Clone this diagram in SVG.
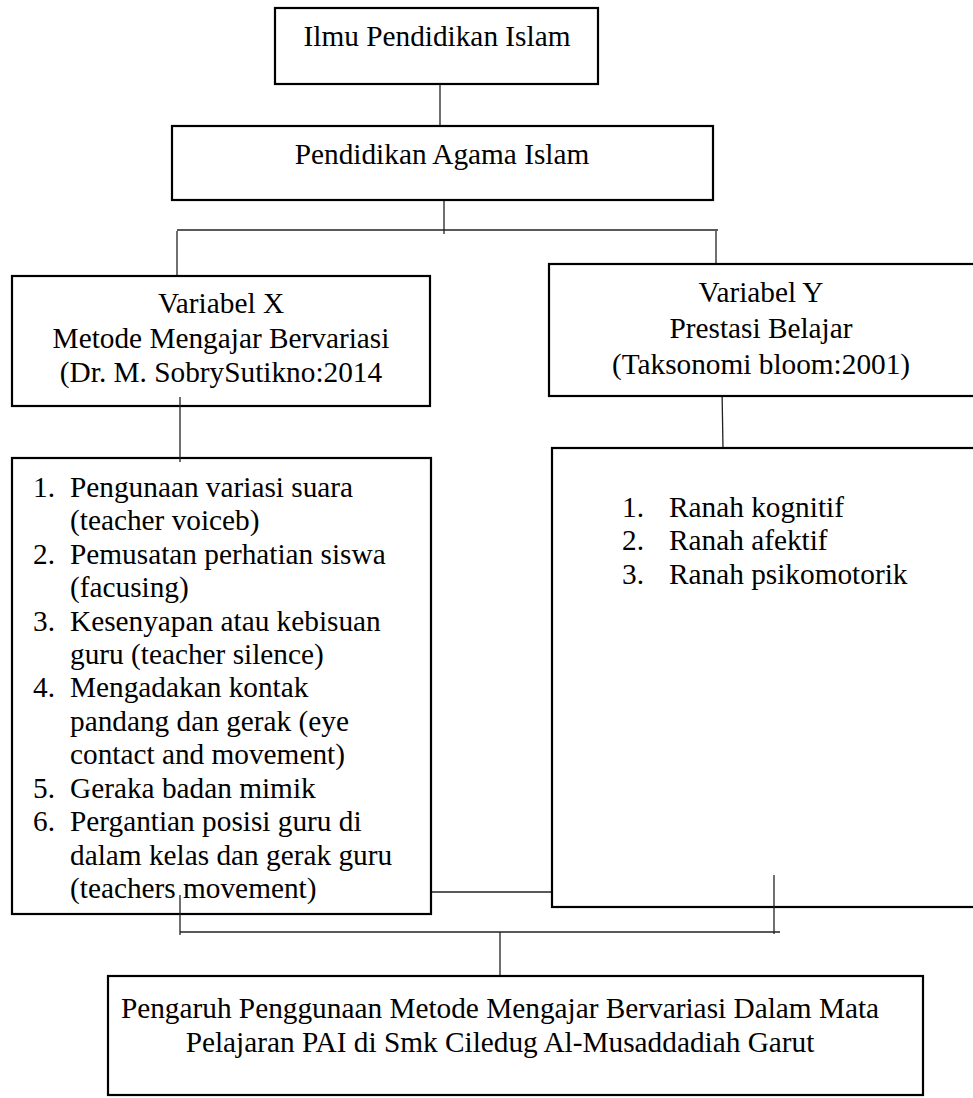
<svg xmlns="http://www.w3.org/2000/svg" width="973" height="1098" viewBox="0 0 973 1098">
<style>
.box{fill:#fff;stroke:#000;stroke-width:2.2}
.t{font-family:"Liberation Serif","Times New Roman",serif;font-size:29.3px;fill:#000}
.c{text-anchor:middle}
.ln{stroke:#222;stroke-width:1.3;fill:none}
</style>
<rect width="973" height="1098" fill="#fff"/>
<g id="connectors">
<line class="ln" x1="440" y1="84" x2="440" y2="126"/>
<line class="ln" x1="444" y1="200" x2="444" y2="234"/>
<line class="ln" x1="177" y1="230" x2="718" y2="230"/>
<line class="ln" x1="177" y1="231" x2="177" y2="280"/>
<line class="ln" x1="716" y1="231" x2="716" y2="264"/>
<line class="ln" x1="722" y1="388" x2="723" y2="449"/>
<line class="ln" x1="431" y1="892" x2="552" y2="892"/>
<line class="ln" x1="180" y1="932" x2="780" y2="932"/>
<line class="ln" x1="500" y1="932" x2="500" y2="976"/>
</g>
<g id="n1">
<rect class="box" x="275" y="8" width="323" height="76"/>
<text class="t c" x="437" y="46">Ilmu Pendidikan Islam</text>
</g>
<g id="n2">
<rect class="box" x="172" y="126" width="541" height="74"/>
<text class="t c" x="442" y="164">Pendidikan Agama Islam</text>
</g>
<g id="nX">
<rect class="box" x="12" y="276" width="418" height="130"/>
<text class="t c" x="221" y="313">Variabel X</text>
<text class="t c" x="221" y="348">Metode Mengajar Bervariasi</text>
<text class="t c" x="221" y="382">(Dr. M. SobrySutikno:2014</text>
</g>
<g id="nY">
<rect class="box" x="549" y="264" width="440" height="132"/>
<text class="t c" x="761" y="302">Variabel Y</text>
<text class="t c" x="761" y="338">Prestasi Belajar</text>
<text class="t c" x="761" y="374">(Taksonomi bloom:2001)</text>
</g>
<g id="nXlist">
<rect class="box" x="12" y="458" width="419" height="456"/>
<text class="t" x="33" y="497">1.</text><text class="t" x="70" y="497">Pengunaan variasi suara</text>
<text class="t" x="70" y="530">(teacher voiceb)</text>
<text class="t" x="33" y="564">2.</text><text class="t" x="70" y="564">Pemusatan perhatian siswa</text>
<text class="t" x="70" y="597">(facusing)</text>
<text class="t" x="33" y="631">3.</text><text class="t" x="70" y="631">Kesenyapan atau kebisuan</text>
<text class="t" x="70" y="664">guru (teacher silence)</text>
<text class="t" x="33" y="697">4.</text><text class="t" x="70" y="697">Mengadakan kontak</text>
<text class="t" x="70" y="731">pandang dan gerak (eye</text>
<text class="t" x="70" y="764">contact and movement)</text>
<text class="t" x="33" y="798">5.</text><text class="t" x="70" y="798">Geraka badan mimik</text>
<text class="t" x="33" y="831">6.</text><text class="t" x="70" y="831">Pergantian posisi guru di</text>
<text class="t" x="70" y="865">dalam kelas dan gerak guru</text>
<text class="t" x="70" y="898">(teachers movement)</text>
</g>
<g id="nYlist">
<rect class="box" x="552" y="448" width="440" height="459"/>
<text class="t" x="622" y="517">1.</text><text class="t" x="669" y="517">Ranah kognitif</text>
<text class="t" x="622" y="550">2.</text><text class="t" x="669" y="550">Ranah afektif</text>
<text class="t" x="622" y="584">3.</text><text class="t" x="669" y="584">Ranah psikomotorik</text>
</g>
<g id="nBottom">
<rect class="box" x="108" y="976" width="815" height="119"/>
<text class="t c" x="500" y="1018">Pengaruh Penggunaan Metode Mengajar Bervariasi Dalam Mata</text>
<text class="t c" x="500" y="1052">Pelajaran PAI di Smk Ciledug Al-Musaddadiah Garut</text>
</g>
<g id="connectors-over">
<line class="ln" x1="180" y1="397" x2="180" y2="462"/>
<line class="ln" x1="180" y1="895" x2="180" y2="935"/>
<line class="ln" x1="774" y1="875" x2="774" y2="934"/>
</g>
</svg>
